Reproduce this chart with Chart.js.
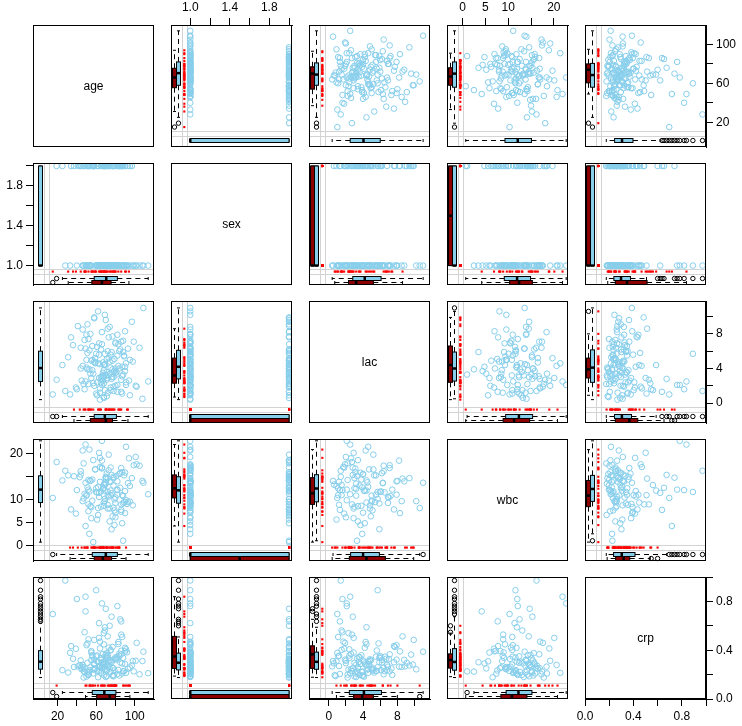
<!DOCTYPE html>
<html>
<head>
<meta charset="utf-8">
<script src="https://cdn.jsdelivr.net/npm/chart.js@4.4.1/dist/chart.umd.min.js"></script>
<style>
html,body{margin:0;padding:0;background:#fff;}
#wrap{position:relative;width:742px;height:726px;overflow:hidden;background:#fff;}
#wrap canvas{position:absolute;}
.diag{position:absolute;font:12px "Liberation Sans",Arial,Helvetica,sans-serif;color:#000;display:flex;align-items:center;justify-content:center;}
</style>
</head>
<body>
<div id="wrap"></div>
<script>
// ---------------- data (null = missing) ----------------
const variables = ['age','sex','lac','wbc','crp'];

const age = [
 72,51,78,52,86,45,69,61,93,77,55,66,82,58,89,
 39,75,67,80,63,97,50,72,85,59,76,34,68,91,65,
 53,79,71,48,95,74,47,83,62,70,88,56,15,77,66,
 84,52,68,101,63,75,43,80,58,87,72,49,64,92,69,
 31,78,50,74,54,86,67,105,60,81,46,70,76,57,90,
 65,73,36,82,68,51,94,63,79,56,71,88,44,66,77,
 109,59,72,85,48,64,80,69,54,91,62,75,28,83,67,
 58,89,70,53,77,64,98,19,74,61,81,68,50,86,46,
 72,114,55,78,66,84,40,69,90,57,75,52,80,64,102,
 47,71,49,76,87,65,33,73,54,82,68,93,59,70,78,
 62,80,48,73,57,88,69,41,76,55,84,66,95,52,71,
 67,44,79,51,86,73,25,64,91,58,70,82,49,75,63,
 56,83,68,99,61,74,37,87,65,78,53,90,71,60,108
];
const sex = [
 1,2,null,1,1,2,null,2,1,1,null,2,1,2,1,
 null,1,2,1,null,2,1,1,2,null,1,2,2,1,null,
 2,1,1,null,2,1,2,null,1,1,2,null,null,2,1,
 1,null,2,1,1,null,2,1,2,2,1,null,1,1,2,
 null,2,1,1,2,null,1,1,null,1,1,2,1,null,2,
 1,1,null,2,1,2,null,1,1,2,null,1,2,1,1,
 1,null,2,1,2,1,null,2,1,null,2,1,1,2,null,
 2,1,null,1,2,1,1,2,2,1,2,null,1,2,1,
 null,1,2,null,1,2,1,1,null,2,1,2,null,1,1,
 1,2,1,null,2,null,1,2,1,1,null,2,1,2,1,
 2,1,null,1,2,1,null,2,1,1,2,null,1,2,1,
 1,null,2,1,2,1,2,null,1,2,1,1,null,2,1,
 null,1,2,1,1,null,2,1,2,null,1,2,1,1,1
];
const lac = [
 3.2,5.8,1.4,null,7.1,2.6,4.4,0.9,6.3,3.9,null,8.2,2.1,4.8,5.5,
 1.8,null,3.5,6.9,2.9,9.4,4.1,1.2,null,5.2,3.0,7.6,0.6,4.6,2.4,
 6.1,3.7,null,1.6,5.0,8.8,2.2,4.3,10.6,null,3.3,6.6,1.0,4.9,2.8,
 null,7.4,3.8,2.0,5.6,1.5,null,4.0,9.9,3.1,6.0,2.5,0.4,null,4.5,
 5.3,1.9,7.9,3.4,null,2.7,4.7,6.4,1.1,3.6,8.5,null,5.9,2.3,4.2,
 3.0,null,6.7,1.3,4.4,9.1,2.6,null,5.1,3.8,0.8,7.2,4.0,2.1,null,
 11.0,4.6,2.9,6.2,null,1.7,3.5,5.7,8.0,2.4,null,4.1,1.4,6.8,3.2,
 2.0,5.4,null,3.9,7.7,1.2,4.8,2.7,null,6.5,3.3,0.7,5.0,null,4.3,
 8.6,2.5,4.9,null,3.1,6.0,1.6,10.2,3.7,null,5.6,2.2,7.0,4.5,1.9,
 null,3.6,6.3,2.8,4.2,null,1.0,5.2,3.4,7.9,2.3,null,4.7,9.6,3.0,
 4.6,2.0,7.3,null,3.4,5.9,1.5,8.9,null,2.9,4.0,6.8,0.9,null,5.1,
 2.6,6.4,null,3.9,1.3,7.6,4.4,null,2.1,9.8,3.2,5.5,null,1.8,6.9,
 5.0,null,3.0,7.1,2.4,4.8,null,1.1,6.2,3.6,null,8.3,2.7,5.7,0.5
];
const wbc = [
 10.8,null,14.9,7.4,16.8,null,11.9,5.6,13.5,null,8.3,18.4,12.1,null,15.2,
 6.9,13.8,null,9.2,20.1,14.6,null,8.8,12.5,16.5,null,7.8,13.2,21.4,null,
 11.7,4.4,15.6,null,9.5,13.9,17.8,null,8.1,14.4,1.0,null,10.3,6.3,16.9,
 null,12.1,8.6,19.2,null,10.9,14.8,7.1,null,15.9,11.6,21.9,null,9.0,13.7,
 15.2,null,11.0,5.2,14.1,8.9,null,17.3,12.4,null,9.6,14.7,3.5,null,11.8,
 8.4,16.3,null,12.0,9.3,null,18.9,11.4,7.6,14.3,null,10.7,15.4,22.7,null,
 13.6,null,8.0,15.7,11.2,17.0,null,10.1,14.0,null,6.6,11.9,16.2,null,12.3,
 null,9.4,14.9,2.5,null,13.8,8.7,18.1,null,11.5,15.1,null,10.8,7.3,20.6,
 14.5,11.1,null,8.2,16.7,null,12.0,9.6,15.8,0.7,null,14.2,10.4,null,17.6,
 10.2,null,13.6,15.3,4.8,11.7,null,19.7,8.5,13.9,null,9.4,16.5,null,14.6,
 12.7,6.1,null,10.6,18.5,9.1,13.1,null,11.3,5.9,15.5,null,12.9,8.9,null,
 null,16.1,10.0,12.6,7.7,null,14.1,19.0,9.8,null,13.4,11.0,4.2,16.9,10.5,
 9.7,null,12.4,17.4,null,8.0,15.0,10.9,null,13.0,20.8,7.0,null,11.6,14.0
];
const crp = [
 5.2,12.4,null,2.1,8.7,3.6,17.9,6.3,null,1.4,9.8,4.5,25.1,7.0,3.0,
 10.6,2.7,6.1,null,14.3,4.9,1.1,8.2,20.6,3.8,null,11.5,5.6,2.4,7.4,
 3.3,null,9.1,16.2,4.2,6.8,0.8,12.9,null,5.5,2.9,7.9,22.4,null,4.0,
 8.9,1.7,null,6.5,3.1,10.2,5.0,null,13.6,2.2,7.6,28.3,4.6,9.4,null,
 2.5,6.9,11.8,3.9,null,15.4,5.3,1.9,8.0,null,4.4,24.2,6.0,3.5,10.9,
 null,4.8,7.2,2.0,12.1,5.8,null,19.3,3.2,8.4,1.3,null,6.6,26.0,4.1,
 9.6,3.7,null,5.9,2.6,13.0,7.7,4.3,null,10.4,0.9,6.2,33.8,3.4,null,
 5.7,null,8.5,2.8,11.2,4.7,6.4,null,18.4,3.0,7.3,1.6,null,9.9,5.1,
 14.8,2.3,6.7,4.0,null,8.1,27.5,3.6,5.4,null,10.0,1.8,7.1,4.9,12.6,
 3.1,7.8,null,21.5,5.6,2.4,9.2,null,4.3,6.9,15.9,3.8,null,8.6,1.2,
 6.2,null,3.9,11.0,2.2,7.5,16.8,4.6,null,9.3,1.5,5.1,null,13.8,3.4,
 8.8,4.1,null,2.7,19.9,6.0,3.3,10.7,null,5.2,1.0,7.9,23.3,null,4.5,
 null,12.2,5.8,2.9,8.3,null,4.4,14.6,6.8,1.7,null,9.7,3.0,30.5,6.4
];

// ---------------- tick values / labels ----------------
const ageTickValues = [20,40,60,80,100];
const ageTickLabels = ['20','','60','','100'];
const sexTickValues = [1.0,1.2,1.4,1.6,1.8,2.0];
const sexTickLabels = ['1.0','','1.4','','1.8',''];
const lacTickValues = [0,2,4,6,8,10];
const lacTickLabels = ['0','','4','','8',''];
const wbcTickValues = [0,5,10,15,20];
const wbcTickLabels = ['0','5','10','','20'];
const diagTickValues = [0,0.2,0.4,0.6,0.8,1.0];
const diagTickLabels = ['0.0','','0.4','','0.8',''];

// ---------------- layout / style ----------------
const DATA = {age, sex, lac, wbc, crp};
const LEFT = [33,171,309,447,585], TOP = [25,163,301,439,577];
const PW = 121, PH = 122, M = 40, AXH = 25, AXW = 36;
const RANGE = {age:[-5.5,120], sex:[0.805,2.03], lac:[-2.3,11.8], wbc:[-3.4,23.1], crp:[-6.5,35]};
const DIAG = [0,1];
const F = {missDot:0.11, line1:0.09, line2:0.13, boxObs:0.06, boxMiss:0.027};
const SKY = '#87CEEB', RED = '#FF0000', RED4 = '#8B0000', GREY = '#D3D3D3';
const T = (values, labels) => ({values, labels});
const AXES = [
  {r:0,c:1,pos:'top',   t:T(sexTickValues,sexTickLabels)},
  {r:0,c:3,pos:'top',   t:T(wbcTickValues,wbcTickLabels)},
  {r:0,c:4,pos:'right', t:T(ageTickValues,ageTickLabels)},
  {r:2,c:4,pos:'right', t:T(lacTickValues,lacTickLabels)},
  {r:4,c:4,pos:'right', t:T(diagTickValues,diagTickLabels)},
  {r:1,c:0,pos:'left',  t:T(sexTickValues,sexTickLabels)},
  {r:3,c:0,pos:'left',  t:T(wbcTickValues,wbcTickLabels)},
  {r:4,c:0,pos:'bottom',t:T(ageTickValues,ageTickLabels)},
  {r:4,c:2,pos:'bottom',t:T(lacTickValues,lacTickLabels)},
  {r:4,c:4,pos:'bottom',t:T(diagTickValues,diagTickLabels)}
];

Chart.defaults.font.family = '"Liberation Sans", Arial, Helvetica, sans-serif';
Chart.defaults.font.size = 12;
Chart.defaults.color = '#000';

const at = (v, f) => RANGE[v][0] + f * (RANGE[v][1] - RANGE[v][0]);

function fivenum(v){
  const x = [...v].sort((a,b)=>a-b), n = x.length;
  const n4 = Math.floor((n+3)/2)/2;
  return [1, n4, (n+1)/2, n+1-n4, n].map(d => 0.5*(x[Math.floor(d)-1] + x[Math.ceil(d)-1]));
}
function boxStats(v){
  const f = fivenum(v), iqr = f[3]-f[1];
  const lo = f[1]-1.5*iqr, hi = f[3]+1.5*iqr;
  const inside = v.filter(a => a>=lo && a<=hi);
  return {q1:f[1], med:f[2], q3:f[3], wlo:Math.min(...inside), whi:Math.max(...inside), out:v.filter(a => a<lo || a>hi)};
}
function drawBox(ctx, chart, b){
  if (!b.vals.length) return;
  const s = boxStats(b.vals), hor = b.horizontal;
  const vs = hor ? chart.scales.x : chart.scales.y;
  const cs = hor ? chart.scales.y : chart.scales.x;
  const c = Math.round(cs.getPixelForValue(cs.min + b.frac*(cs.max-cs.min))) + 0.5;
  const P = v => vs.getPixelForValue(v);
  const HW = 2;
  const seg = (v1,c1,v2,c2) => { ctx.beginPath(); if (hor){ctx.moveTo(v1,c1);ctx.lineTo(v2,c2);} else {ctx.moveTo(c1,v1);ctx.lineTo(c2,v2);} ctx.stroke(); };
  ctx.save();
  ctx.strokeStyle = '#000'; ctx.lineWidth = 1;
  ctx.setLineDash([5,4]);
  seg(P(s.q3), c, P(s.whi), c);
  seg(P(s.q1), c, P(s.wlo), c);
  ctx.setLineDash([]);
  seg(P(s.whi), c-1.5, P(s.whi), c+1.5);
  seg(P(s.wlo), c-1.5, P(s.wlo), c+1.5);
  const v1 = P(s.q1), v2 = P(s.q3), lo = Math.min(v1,v2), len = Math.max(Math.abs(v2-v1), 1);
  ctx.fillStyle = b.fill;
  if (hor){ ctx.fillRect(lo, c-HW, len, 2*HW); ctx.strokeRect(lo, c-HW, len, 2*HW); }
  else    { ctx.fillRect(c-HW, lo, 2*HW, len); ctx.strokeRect(c-HW, lo, 2*HW, len); }
  ctx.lineWidth = 2.5;
  seg(P(s.med), c-HW, P(s.med), c+HW);
  ctx.lineWidth = 1;
  s.out.forEach(v => { const p = P(v); ctx.beginPath(); if (hor) ctx.arc(p, c, 2.2, 0, 2*Math.PI); else ctx.arc(c, p, 2.2, 0, 2*Math.PI); ctx.stroke(); });
  ctx.restore();
}
function makeDecor(cfg){
  return {
    id: 'decor',
    beforeDatasetsDraw(chart){
      const {ctx, chartArea:a} = chart, xs = chart.scales.x, ys = chart.scales.y;
      ctx.save(); ctx.strokeStyle = GREY; ctx.lineWidth = 1;
      (cfg.vLines||[]).forEach(v => { const p = Math.round(xs.getPixelForValue(v))+0.5; ctx.beginPath(); ctx.moveTo(p,a.top); ctx.lineTo(p,a.bottom); ctx.stroke(); });
      (cfg.hLines||[]).forEach(v => { const p = Math.round(ys.getPixelForValue(v))+0.5; ctx.beginPath(); ctx.moveTo(a.left,p); ctx.lineTo(a.right,p); ctx.stroke(); });
      ctx.restore();
    },
    afterDatasetsDraw(chart){
      const {ctx, chartArea:a} = chart;
      (cfg.boxes||[]).forEach(b => drawBox(ctx, chart, b));
      ctx.save(); ctx.strokeStyle = '#000'; ctx.lineWidth = 1;
      ctx.strokeRect(a.left+0.5, a.top+0.5, a.width-1, a.height-1);
      ctx.restore();
    }
  };
}
function scaleCfg(rng, axis){
  const base = {type:'linear', min:rng[0], max:rng[1], display:!!axis};
  if (!axis) return base;
  const horiz = axis.pos === 'top' || axis.pos === 'bottom';
  return Object.assign(base, {
    position: axis.pos,
    afterBuildTicks: sc => { sc.ticks = axis.t.values.map(v => ({value:v})); },
    afterFit: sc => { if (horiz) sc.height = AXH; else sc.width = AXW; },
    grid: {display:true, drawOnChartArea:false, drawTicks:true, tickLength:7, color:'#000', lineWidth:1},
    border: {display:true, color:'#000', width:1},
    ticks: {autoSkip:false, maxRotation:0, minRotation:0, padding:3, color:'#000', font:{size:12},
            callback: (v, i) => axis.t.labels[i]}
  });
}

const wrap = document.getElementById('wrap');
for (let r = 0; r < 5; r++){
  for (let c = 0; c < 5; c++){
    const cv = document.createElement('canvas');
    cv.width = PW + 2*M; cv.height = PH + 2*M;
    cv.style.left = (LEFT[c]-M) + 'px'; cv.style.top = (TOP[r]-M) + 'px';
    cv.style.width = cv.width + 'px'; cv.style.height = cv.height + 'px';
    wrap.appendChild(cv);
    const axes = AXES.filter(a => a.r === r && a.c === c);
    const get = pos => axes.find(a => a.pos === pos);
    const xAxis = get('top') || get('bottom');
    const yAxis = get('left') || get('right');
    const diag = r === c;
    const xv = variables[c], yv = variables[r];
    const xr = diag ? DIAG : RANGE[xv], yr = diag ? DIAG : RANGE[yv];
    const datasets = [];
    const cfg = {};
    if (!diag){
      const X = DATA[xv], Y = DATA[yv];
      const mx = at(xv, F.missDot), my = at(yv, F.missDot);
      const obs = [], missX = [], missY = [];
      const yObs = [], yMis = [], xObs = [], xMis = [];
      for (let k = 0; k < X.length; k++){
        const a = X[k], b = Y[k];
        if (a !== null && b !== null) obs.push({x:a, y:b});
        else if (a === null && b !== null) missX.push({x:mx, y:b});
        else if (a !== null && b === null) missY.push({x:a, y:my});
        if (b !== null){ if (a !== null) yObs.push(b); else yMis.push(b); }
        if (a !== null){ if (b !== null) xObs.push(a); else xMis.push(a); }
      }
      datasets.push({data:obs, pointStyle:'circle', pointRadius:2.8, borderColor:SKY, backgroundColor:'rgba(0,0,0,0)', borderWidth:1});
      datasets.push({data:missX, pointStyle:'rect', pointRadius:1.5, backgroundColor:RED, borderWidth:0});
      datasets.push({data:missY, pointStyle:'rect', pointRadius:1.5, backgroundColor:RED, borderWidth:0});
      cfg.vLines = [at(xv, F.line1), at(xv, F.line2)];
      cfg.hLines = [at(yv, F.line1), at(yv, F.line2)];
      cfg.boxes = [
        {vals:yObs, fill:SKY,  frac:F.boxObs,  horizontal:false},
        {vals:yMis, fill:RED4, frac:F.boxMiss, horizontal:false},
        {vals:xObs, fill:SKY,  frac:F.boxObs,  horizontal:true},
        {vals:xMis, fill:RED4, frac:F.boxMiss, horizontal:true}
      ];
    } else {
      const d = document.createElement('div');
      d.className = 'diag';
      d.style.left = LEFT[c] + 'px'; d.style.top = TOP[r] + 'px';
      d.style.width = PW + 'px'; d.style.height = PH + 'px';
      d.textContent = variables[r];
      wrap.appendChild(d);
    }
    new Chart(cv, {
      type: 'scatter',
      data: {datasets},
      options: {
        responsive:false, animation:false, devicePixelRatio:1, events:[],
        layout: {padding: {
          left: M - (get('left') ? AXW : 0), right: M - (get('right') ? AXW : 0),
          top: M - (get('top') ? AXH : 0), bottom: M - (get('bottom') ? AXH : 0)}},
        plugins: {legend:{display:false}, tooltip:{enabled:false}},
        scales: {x: scaleCfg(xr, xAxis), y: scaleCfg(yr, yAxis)}
      },
      plugins: [makeDecor(cfg)]
    });
  }
}
</script>
</body>
</html>
